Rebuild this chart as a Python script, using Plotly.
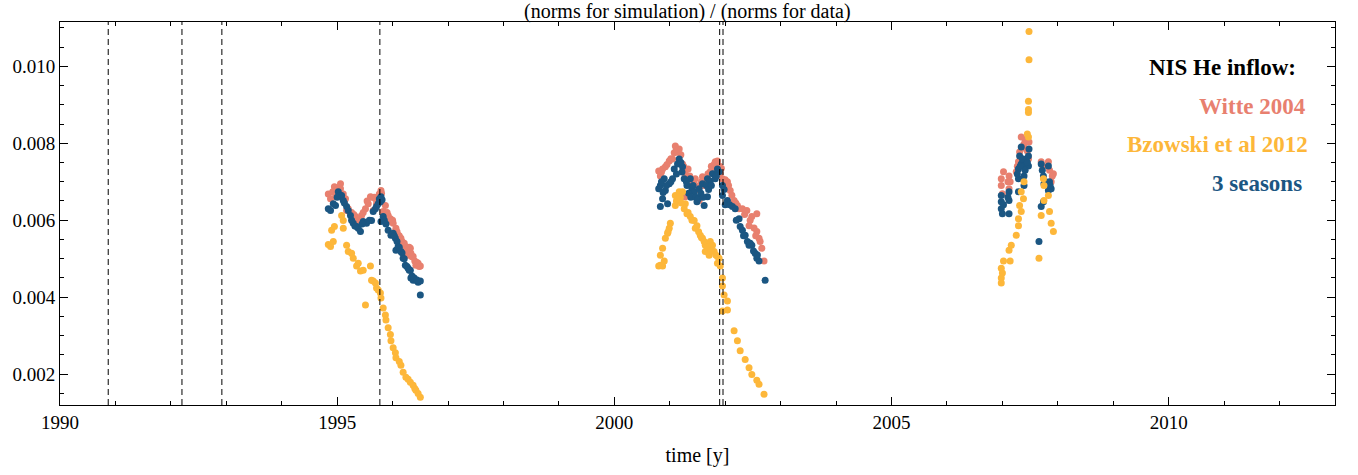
import plotly.graph_objects as go

# ---------------- data ----------------
witte_t = [1994.84, 1994.88, 1994.92, 1994.95, 1994.97, 1995.06, 1995.06, 1995.11, 1995.15, 1995.17,
           1995.20, 1995.26, 1995.33, 1995.38, 1995.44, 1995.51, 1995.56, 1995.60, 1995.65, 1995.69,
           1995.71, 1995.74, 1995.76, 1995.78, 1995.79, 1995.83, 1995.87, 1995.88, 1995.92, 1995.96,
           1995.97, 1996.01, 1996.05, 1996.06, 1996.10, 1996.14, 1996.15, 1996.19, 1996.23, 1996.24,
           1996.28, 1996.32, 1996.33, 1996.37, 1996.40, 1996.42, 1996.46, 1996.50,
           1995.00, 1995.03, 1995.09, 1995.13, 1995.23, 1995.30, 1995.47, 1995.54, 1995.62, 1995.67,
           1995.80, 1995.90, 1996.00, 1996.08, 1996.12, 1996.17, 1996.21, 1996.26, 1996.30, 1996.35,
           1996.44, 1996.48,
           2000.80, 2000.83, 2000.87, 2000.92, 2000.99, 2001.05, 2001.10, 2001.14, 2001.17, 2001.23,
           2001.28, 2001.28, 2001.33, 2001.40, 2001.46, 2001.53, 2001.53, 2001.59, 2001.64, 2001.69,
           2001.73, 2001.77, 2001.82, 2001.86, 2001.86, 2001.91, 2001.95, 2002.04, 2002.09, 2002.16,
           2002.22, 2002.31, 2002.39, 2002.43, 2002.48, 2002.57, 2002.57, 2002.61, 2002.66, 2002.70,
           2000.85, 2000.95, 2001.02, 2001.08, 2001.12, 2001.20, 2001.25, 2001.36, 2001.43, 2001.50,
           2001.57, 2001.62, 2001.67, 2001.75, 2001.80, 2001.90, 2001.93, 2002.00, 2002.06, 2002.12,
           2002.19, 2002.25, 2002.35, 2002.45, 2002.52, 2002.55, 2002.63,
           2006.98, 2006.98, 2007.00, 2007.02, 2007.12, 2007.14, 2007.12, 2007.25, 2007.29, 2007.31,
           2007.34, 2007.39, 2007.43, 2007.48, 2007.47, 2007.70, 2007.83, 2007.88, 2007.92,
           2007.10, 2007.27, 2007.36, 2007.41, 2007.45, 2007.73, 2007.85, 2007.90]
witte_v = [0.00668, 0.00656, 0.00674, 0.00687, 0.00661, 0.00695, 0.00682, 0.00668, 0.00656, 0.00625,
           0.00630, 0.00620, 0.00610, 0.00599, 0.00612, 0.00630, 0.00643, 0.00661, 0.00625, 0.00656,
           0.00643, 0.00656, 0.00668, 0.00664, 0.00677, 0.00623, 0.00638, 0.00617, 0.00612, 0.00604,
           0.00597, 0.00592, 0.00571, 0.00579, 0.00561, 0.00548, 0.00553, 0.00540, 0.00532, 0.00522,
           0.00509, 0.00527, 0.00514, 0.00506, 0.00494, 0.00483, 0.00488, 0.00481,
           0.00680, 0.00685, 0.00660, 0.00650, 0.00620, 0.00615, 0.00620, 0.00650, 0.00660, 0.00660,
           0.00670, 0.00620, 0.00600, 0.00570, 0.00560, 0.00545, 0.00540, 0.00520, 0.00530, 0.00505,
           0.00490, 0.00480,
           0.00728, 0.00715, 0.00733, 0.00739, 0.00754, 0.00759, 0.00793, 0.00777, 0.00785, 0.00746,
           0.00721, 0.00661, 0.00733, 0.00700, 0.00708, 0.00690, 0.00651, 0.00713, 0.00700, 0.00721,
           0.00726, 0.00739, 0.00752, 0.00754, 0.00733, 0.00721, 0.00708, 0.00700, 0.00677, 0.00651,
           0.00638, 0.00630, 0.00625, 0.00586, 0.00610, 0.00617, 0.00571, 0.00553, 0.00527, 0.00494,
           0.00725, 0.00745, 0.00760, 0.00775, 0.00785, 0.00770, 0.00740, 0.00715, 0.00700, 0.00680,
           0.00700, 0.00690, 0.00710, 0.00740, 0.00745, 0.00740, 0.00735, 0.00705, 0.00690, 0.00665,
           0.00645, 0.00630, 0.00615, 0.00600, 0.00580, 0.00560, 0.00545,
           0.00708, 0.00690, 0.00669, 0.00726, 0.00715, 0.00700, 0.00682, 0.00726, 0.00752, 0.00777,
           0.00816, 0.00798, 0.00785, 0.00803, 0.00759, 0.00752, 0.00752, 0.00700, 0.00721,
           0.00700, 0.00740, 0.00790, 0.00810, 0.00780, 0.00740, 0.00730, 0.00715]

seasons_t = [1994.84, 1994.88, 1994.93, 1994.97, 1995.02, 1995.06, 1995.08, 1995.11, 1995.17, 1995.20,
             1995.24, 1995.29, 1995.35, 1995.38, 1995.42, 1995.47, 1995.53, 1995.62, 1995.65, 1995.69,
             1995.71, 1995.74, 1995.78, 1995.79, 1995.81, 1995.79, 1995.83, 1995.92, 1995.97, 1996.01,
             1996.05, 1996.06, 1996.10, 1996.15, 1996.19, 1996.23, 1996.28, 1996.32, 1996.33, 1996.37,
             1996.42, 1996.46, 1996.50, 1996.50,
             1995.00, 1995.13, 1995.26, 1995.32, 1995.45, 1995.58, 1995.76, 1995.85, 1995.88, 1996.03,
             1996.08, 1996.12, 1996.17, 1996.21, 1996.26, 1996.30, 1996.35, 1996.39, 1996.44,
             2000.80, 2000.83, 2000.83, 2000.87, 2000.90, 2000.92, 2000.96, 2000.99, 2001.05, 2001.08,
             2001.14, 2001.17, 2001.23, 2001.26, 2001.31, 2001.37, 2001.40, 2001.44, 2001.49, 2001.53,
             2001.59, 2001.62, 2001.68, 2001.68, 2001.73, 2001.77, 2001.82, 2001.86, 2001.89, 2001.95,
             2001.95, 2002.04, 2002.13, 2002.18, 2002.25, 2002.27, 2002.31, 2002.36, 2002.43, 2002.48,
             2002.54, 2002.57, 2002.61, 2002.72,
             2000.85, 2000.88, 2000.94, 2001.02, 2001.12, 2001.20, 2001.22, 2001.30, 2001.34, 2001.38,
             2001.42, 2001.47, 2001.51, 2001.56, 2001.60, 2001.66, 2001.70, 2001.75, 2001.80, 2001.84,
             2001.98, 2002.00, 2002.08, 2002.20, 2002.33, 2002.40, 2002.45, 2002.51, 2002.58,
             2006.98, 2006.98, 2006.98, 2007.00, 2007.12, 2007.12, 2007.12, 2007.29, 2007.29, 2007.29,
             2007.31, 2007.34, 2007.34, 2007.39, 2007.39, 2007.39, 2007.43, 2007.47, 2007.47, 2007.48,
             2007.66, 2007.70, 2007.70, 2007.74, 2007.74, 2007.75, 2007.83, 2007.83, 2007.85, 2007.88,
             2007.02, 2007.10, 2007.27, 2007.32, 2007.36, 2007.41, 2007.45, 2007.72, 2007.78, 2007.86]
seasons_v = [0.00630, 0.00625, 0.00643, 0.00638, 0.00674, 0.00664, 0.00664, 0.00651, 0.00636, 0.00625,
             0.00612, 0.00592, 0.00584, 0.00579, 0.00571, 0.00597, 0.00592, 0.00599, 0.00623, 0.00630,
             0.00636, 0.00643, 0.00648, 0.00661, 0.00653, 0.00597, 0.00610, 0.00574, 0.00561, 0.00566,
             0.00553, 0.00522, 0.00532, 0.00519, 0.00501, 0.00483, 0.00475, 0.00470, 0.00450, 0.00444,
             0.00444, 0.00439, 0.00442, 0.00406,
             0.00660, 0.00645, 0.00600, 0.00585, 0.00590, 0.00600, 0.00655, 0.00600, 0.00590, 0.00560,
             0.00545, 0.00530, 0.00515, 0.00500, 0.00480, 0.00470, 0.00455, 0.00450, 0.00445,
             0.00682, 0.00690, 0.00636, 0.00656, 0.00708, 0.00677, 0.00643, 0.00695, 0.00708, 0.00733,
             0.00746, 0.00759, 0.00739, 0.00708, 0.00690, 0.00708, 0.00682, 0.00674, 0.00648, 0.00682,
             0.00695, 0.00638, 0.00661, 0.00708, 0.00702, 0.00721, 0.00708, 0.00733, 0.00726, 0.00690,
             0.00664, 0.00651, 0.00636, 0.00630, 0.00604, 0.00584, 0.00574, 0.00561, 0.00535, 0.00535,
             0.00514, 0.00501, 0.00494, 0.00444,
             0.00700, 0.00672, 0.00690, 0.00700, 0.00720, 0.00750, 0.00725, 0.00700, 0.00670, 0.00660,
             0.00690, 0.00660, 0.00655, 0.00670, 0.00660, 0.00690, 0.00680, 0.00690, 0.00720, 0.00715,
             0.00680, 0.00640, 0.00640, 0.00600, 0.00560, 0.00545, 0.00540, 0.00520, 0.00510,
             0.00664, 0.00648, 0.00630, 0.00617, 0.00674, 0.00651, 0.00617, 0.00733, 0.00708, 0.00674,
             0.00767, 0.00790, 0.00746, 0.00741, 0.00715, 0.00690, 0.00759, 0.00767, 0.00741, 0.00785,
             0.00545, 0.00746, 0.00636, 0.00715, 0.00648, 0.00695, 0.00741, 0.00677, 0.00700, 0.00682,
             0.00640, 0.00660, 0.00720, 0.00740, 0.00760, 0.00730, 0.00750, 0.00730, 0.00700, 0.00690]

bzowski_t = [1994.84, 1994.88, 1994.90, 1994.93, 1994.95, 1995.08, 1995.11, 1995.11, 1995.17, 1995.20,
             1995.26, 1995.29, 1995.35, 1995.38, 1995.42, 1995.47, 1995.51, 1995.60, 1995.62, 1995.65,
             1995.69, 1995.71, 1995.74, 1995.78, 1995.79, 1995.83, 1995.87, 1995.88, 1995.92, 1995.96,
             1995.97, 1996.01, 1996.05, 1996.06, 1996.12, 1996.15, 1996.19, 1996.24, 1996.28, 1996.32,
             1996.37, 1996.40, 1996.42, 1996.46, 1996.50,
             2000.80, 2000.83, 2000.83, 2000.87, 2000.87, 2000.90, 2000.92, 2000.96, 2000.99, 2001.01,
             2001.10, 2001.10, 2001.14, 2001.17, 2001.23, 2001.26, 2001.28, 2001.31, 2001.37, 2001.44,
             2001.46, 2001.49, 2001.55, 2001.59, 2001.64, 2001.64, 2001.71, 2001.73, 2001.77, 2001.80,
             2001.86, 2001.86, 2001.89, 2001.91, 2001.95, 2001.95, 2001.98, 2002.04, 2002.04, 2001.95,
             2002.16, 2002.22, 2002.27, 2002.36, 2002.43, 2002.48, 2002.57, 2002.61, 2002.70,
             2000.97, 2001.12, 2001.19, 2001.21, 2001.33, 2001.40, 2001.52, 2001.57, 2001.62, 2001.68,
             2001.75, 2001.83,
             2006.98, 2006.98, 2006.98, 2007.00, 2007.02, 2007.12, 2007.14, 2007.16, 2007.25, 2007.29,
             2007.29, 2007.31, 2007.34, 2007.34, 2007.38, 2007.39, 2007.45, 2007.47, 2007.47, 2007.47,
             2007.47, 2007.48, 2007.48, 2007.66, 2007.70, 2007.74, 2007.75, 2007.75, 2007.83, 2007.85,
             2007.88, 2007.92]
bzowski_v = [0.00537, 0.00532, 0.00574, 0.00545, 0.00584, 0.00612, 0.00599, 0.00579, 0.00535, 0.00519,
             0.00514, 0.00501, 0.00481, 0.00488, 0.00468, 0.00470, 0.00380, 0.00481, 0.00444, 0.00442,
             0.00437, 0.00424, 0.00419, 0.00411, 0.00398, 0.00372, 0.00354, 0.00341, 0.00321, 0.00303,
             0.00287, 0.00269, 0.00256, 0.00243, 0.00233, 0.00223, 0.00205, 0.00192, 0.00187, 0.00179,
             0.00171, 0.00163, 0.00158, 0.00150, 0.00140,
             0.00481, 0.00509, 0.00483, 0.00527, 0.00481, 0.00494, 0.00553, 0.00566, 0.00579, 0.00592,
             0.00664, 0.00638, 0.00656, 0.00674, 0.00674, 0.00630, 0.00643, 0.00617, 0.00610, 0.00599,
             0.00579, 0.00586, 0.00561, 0.00553, 0.00535, 0.00519, 0.00509, 0.00545, 0.00535, 0.00519,
             0.00506, 0.00488, 0.00501, 0.00481, 0.00450, 0.00429, 0.00406, 0.00390, 0.00367, 0.00364,
             0.00313, 0.00287, 0.00261, 0.00238, 0.00217, 0.00199, 0.00184, 0.00174, 0.00148,
             0.00570, 0.00650, 0.00660, 0.00645, 0.00620, 0.00600, 0.00570, 0.00555, 0.00545, 0.00530,
             0.00520, 0.00510,
             0.00475, 0.00450, 0.00437, 0.00463, 0.00494, 0.00522, 0.00494, 0.00535, 0.00561, 0.00586,
             0.00604, 0.00638, 0.00623, 0.00674, 0.00656, 0.00700, 0.00824, 0.00816, 0.00909, 0.00888,
             0.00880, 0.01017, 0.01090, 0.00501, 0.00612, 0.00708, 0.00690, 0.00651, 0.00664, 0.00623,
             0.00592, 0.00571]

event_times = [1990.87, 1992.20, 1992.92, 1995.77, 2001.90, 2001.96]

x_ticks = [1990, 1995, 2000, 2005, 2010]
y_ticks = [0.002, 0.004, 0.006, 0.008, 0.010]
y_tick_text = ["0.002", "0.004", "0.006", "0.008", "0.010"]

legend_title = "NIS He inflow:"
series_names = ["Witte 2004", "Bzowski et al 2012", "3 seasons"]

# ---------------- style ----------------
C_WITTE = "#E8806F"
C_BZ = "#FDB73A"
C_SEAS = "#1B5682"
FONT = "Liberation Serif, Times New Roman, serif"

fig = go.Figure()
mk = dict(size=7, line=dict(width=0))
fig.add_trace(go.Scatter(x=witte_t, y=witte_v, mode="markers", name=series_names[0],
                         marker=dict(color=C_WITTE, **mk)))
fig.add_trace(go.Scatter(x=seasons_t, y=seasons_v, mode="markers", name=series_names[2],
                         marker=dict(color=C_SEAS, **mk)))
fig.add_trace(go.Scatter(x=bzowski_t, y=bzowski_v, mode="markers", name=series_names[1],
                         marker=dict(color=C_BZ, **mk)))

for t in event_times:
    fig.add_shape(type="line", xref="x", yref="paper", x0=t, x1=t, y0=0, y1=1,
                  line=dict(color="black", width=1, dash="6px,4px"), layer="above")

axis_common = dict(showline=True, linecolor="black", linewidth=1, mirror="allticks",
                   ticks="inside", ticklen=8, tickcolor="black", tickwidth=1,
                   showgrid=False, zeroline=False,
                   tickfont=dict(family=FONT, size=19, color="black"))

fig.update_xaxes(range=[1990, 2013], tickvals=x_ticks, ticktext=[str(v) for v in x_ticks],
                 minor=dict(dtick=1, tick0=1990, ticks="inside", ticklen=4, tickcolor="black", showgrid=False),
                 title=dict(text="time [y]", font=dict(family=FONT, size=20, color="black"), standoff=16),
                 **axis_common)
fig.update_yaxes(range=[0.0012, 0.01115], tickvals=y_ticks, ticktext=y_tick_text,
                 minor=dict(dtick=0.0005, tick0=0, ticks="inside", ticklen=4, tickcolor="black", showgrid=False),
                 **axis_common)

ann_y = [0.881, 0.780, 0.681, 0.578]
ann_txt = [legend_title] + [series_names[0], series_names[1], series_names[2]]
ann_col = ["black", C_WITTE, C_BZ, C_SEAS]
ann_x = [0.971, 0.9785, 0.9805, 0.9760]
for xx, yy, tx, cc in zip(ann_x, ann_y, ann_txt, ann_col):
    fig.add_annotation(xref="paper", yref="paper", x=xx, y=yy, xanchor="right", yanchor="middle",
                       text="<b>%s</b>" % tx, showarrow=False,
                       font=dict(family=FONT, size=23, color=cc))

fig.add_annotation(xref="paper", yref="paper", x=0.4925, y=1 + 10.5 / 386, xanchor="center",
                   yanchor="middle", borderpad=0,
                   text="(norms for simulation) / (norms for data)", showarrow=False,
                   font=dict(family=FONT, size=20, color="black"))

fig.update_layout(
    width=1358, height=475,
    margin=dict(l=55, r=23, t=22, b=67),
    paper_bgcolor="white", plot_bgcolor="white",
    showlegend=False,
    font=dict(family=FONT, color="black"),
)

fig.write_html("out.html")
